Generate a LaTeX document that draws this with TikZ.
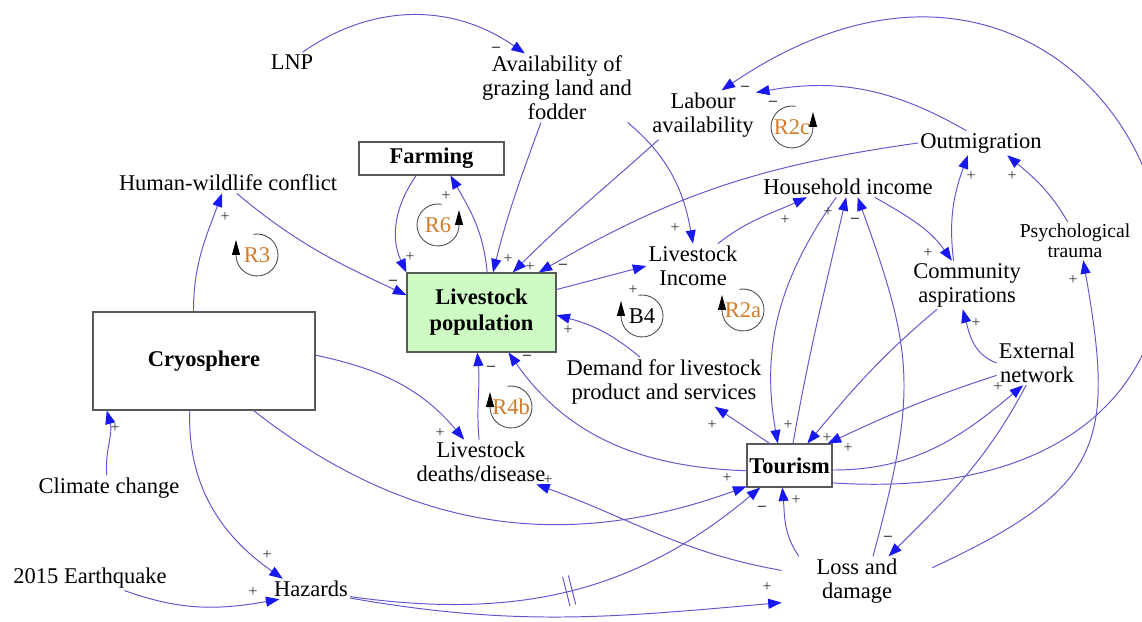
\documentclass[tikz,border=0pt]{standalone}
\usepackage{fontspec}
\setmainfont{Liberation Serif}
\usepackage{tikz}
\usetikzlibrary{arrows.meta}
\definecolor{linkcol}{RGB}{96,86,206}
\definecolor{tipcol}{RGB}{24,24,240}
\definecolor{loopcol}{RGB}{208,124,40}
\definecolor{stockfill}{RGB}{206,250,196}

\begin{document}
\begin{tikzpicture}[x=0.2mm,y=-0.2mm]
    \newcommand{\polsign}[3]{\node[sign] (#1) at (#2) {#3};}
    \newcommand{\loopcw}[4]{
      \node[looplabel,text=#4] (#1) at (#2) {#3};
      \draw[loopline] ([shift={(100:4.2mm)}]#1.center) arc[start angle=100,end angle=-180,radius=4.2mm] -- ++(0,-15);
    }
    \newcommand{\loopccw}[4]{
      \node[looplabel,text=#4] (#1) at (#2) {#3};
      \draw[loopline] ([shift={(80:4.2mm)}]#1.center) arc[start angle=80,end angle=360,radius=4.2mm] -- ++(0,-15);
    }
    \tikzstyle{var}=[
      align=center,
      inner sep=0.4mm,
      font=\fontsize{12.8}{13.7}\selectfont,
    ]
    \tikzstyle{box}=[
      var,
      draw=black!65,
      line width=0.6pt,
      font=\fontsize{12.8}{14.8}\selectfont\bfseries,
    ]
    \tikzstyle{link}=[line width=0.55pt,draw=linkcol,-{Triangle[length=2.7mm,width=2mm,color=tipcol]}]
    \tikzstyle{delayline}=[line width=0.55pt,draw=linkcol]
    \tikzstyle{sign}=[inner sep=0pt,font=\fontsize{9}{9}\selectfont,text=black!80]
    \tikzstyle{loopline}=[line width=0.5pt,draw=black!70,-{Triangle[length=3mm,width=1.6mm,color=black]}]
    \tikzstyle{looplabel}=[inner sep=0pt,font=\fontsize{12.8}{13.7}\selectfont]

    \useasboundingbox (0,0) rectangle (1142,622);

    % variables
    {
      \node[var] (lnp) at (292,62) {LNP};
      \node[var] (avail) at (557,88) {Availability of\\grazing land and\\fodder};
      \node[var] (labour) at (703,115) {Labour\\availability};
      \node[box,minimum width=29mm,minimum height=6.6mm] (farm) at (431.5,158.5) {Farming};
      \node[var] (hwc) at (228,183) {Human-wildlife conflict};
      \node[var] (outm) at (981,143) {Outmigration};
      \node[var] (hhi) at (848,187) {Household income};
      \node[var] (li) at (693,266) {Livestock\\Income};
      \node[box,fill=stockfill,minimum width=29.8mm,minimum height=15.8mm] (lp) at (481.5,312.5) {Livestock\\population};
      \node[var] (ca) at (967,285) {Community\\aspirations};
      \node[var,font=\fontsize{11.2}{11.4}\selectfont] (pt) at (1075,241) {Psychological\\trauma};
      \node[box,minimum width=44.4mm,minimum height=19.6mm] (cryo) at (204,361) {Cryosphere};
      \node[var] (demand) at (664,382) {Demand for livestock\\product and services};
      \node[var] (en) at (1037,363) {External\\network};
      \node[var] (deaths) at (481,462) {Livestock\\deaths/disease};
      \node[box,minimum width=17mm,minimum height=8.6mm] (tour) at (789.5,465.5) {Tourism};
      \node[var] (cc) at (109,488) {Climate change};
      \node[var] (eq) at (90,578) {2015 Earthquake};
      \node[var] (haz) at (311,589) {Hazards};
      \node[var,minimum width=30mm] (ld) at (857,581) {Loss and\\damage};
    }

    % links
    {
      \draw[link] (lnp.43) to[out=35,in=145] (avail.133);
      \draw[link] (avail.-115) to[out=-110,in=76] (lp.74);
      \draw[link] (avail.-26) to[out=-40,in=100] (li.north);
      \draw[link] (labour.-151) to[out=-138,in=45] (lp.52);
      \draw[link] (outm.west) to[out=-172,in=30] (lp.35);
      \draw[link] (outm.140) to[out=150,in=10] (labour.23);
      \draw[link] (tour.-22) .. controls (1400,520) and (1150,-200) .. (labour.53);
      \draw[link] (lp.17) -- (li.west);
      \draw[link] (li.42) to[out=38,in=-155] (hhi.-166);
      \draw[link] (hhi.-21) to[out=-30,in=125] (ca.122);
      \draw[link] (ca.119) to[out=97,in=-110] (outm.-137);
      \draw[link] (pt.111) to[out=120,in=-40] (outm.-25);
      \draw[link] (ld.10) to[out=25,in=-80,looseness=1.4] (pt.-67);

      \draw[link] (tour.-6) to[out=0,in=-140] (en.-122);
      \draw[link] (en.-163) to[out=-162,in=25] (tour.30);
      \draw[link] (ca.-141) to[out=-140,in=50] (tour.51);
      \draw[link] (hhi.-139) to[out=-125,in=100] (tour.118);
      \draw[link] (tour.81) to[out=80,in=-103] (hhi.-100);
      \draw[link] (ld.57) to[out=75,in=-70,looseness=1.2] (hhi.-47);

      \draw[link] (tour.132) -- (demand.-26);
      \draw[link] (demand.134) to[out=140,in=-15] (lp.-2);
      \draw[link] (tour.-173) to[out=178,in=-55] (lp.-56);
      \draw[link] (deaths.95) to[out=95,in=-85] (lp.-96);
      \draw[link] (cryo.3) to[out=-12,in=130] (deaths.127);
      \draw[link] (cryo.-45) to[out=-38,in=-160] (tour.-154);
      \draw[link] (cryo.-106) to[out=-92,in=145] (haz.160);
      \draw[link] (cryo.102) to[out=90,in=-110] (hwc.-120);
      \draw[link] (hwc.-50) to[out=-40,in=155] (lp.167);
      \draw[link] (farm.-132) to[out=-125,in=115] (lp.north west);
      \draw[link] (lp.82) to[out=95,in=-60] (farm.-42);
      \draw[link] (cc.100) to[out=95,in=-75] (cryo.-153);
      \draw[link] (eq.-20) to[out=-20,in=-170] (haz.-162);
      \draw[link] (haz.-11) to[out=-8,in=-140] node[pos=.5,sloped,inner sep=0pt,minimum width=1mm,minimum height=5.8mm] (dly) {} (tour.-143);
      \draw[delayline] (dly.north west) -- (dly.south west) (dly.north east) -- (dly.south east);
      \draw[link] (haz.-13) to[out=-10,in=-175] (ld.-164);
      \draw[link] (ld.172) to[out=170,in=-20] (deaths.-22);
      \draw[link] (ld.157) to[out=125,in=-85] (tour.-108);
      \draw[link] (en.west) to[out=160,in=-75] (ca.-100);
      \draw[link] (en.-116) to[out=-118,in=45] (ld.38);
    }

    % polarities
    {
      \polsign{sLnpAv}{496,49}{\bfseries --}
      \polsign{sAvLp}{508,259}{+}
      \polsign{sLaLp}{530,267}{+}
      \polsign{sOmLp}{563,266}{\bfseries --}
      \polsign{sAvLi}{675,228}{+}
      \polsign{sLpLi}{633,290}{+}
      \polsign{sLiHi}{785,220}{+}
      \polsign{sHiCa}{928,253}{+}
      \polsign{sCaOm}{971,176}{+}
      \polsign{sPtOm}{1012,176}{+}
      \polsign{sLdPt}{1073,280}{+}
      \polsign{sToLa}{745,88}{\bfseries --}
      \polsign{sOmLa}{773,103}{\bfseries --}
      \polsign{sToHi}{828,212}{+}
      \polsign{sLdHi}{855,220}{\bfseries --}
      \polsign{sHiTo}{788,425}{+}
      \polsign{sCaTo}{827,438}{+}
      \polsign{sEnTo}{848,448}{+}
      \polsign{sToEn}{998,387}{+}
      \polsign{sEnCa}{976,323}{+}
      \polsign{sEnLd}{888,538}{\bfseries --}
      \polsign{sToDe}{712,425}{+}
      \polsign{sDeLp}{568,330}{+}
      \polsign{sToLp}{527,357}{\bfseries --}
      \polsign{sDtLp}{491,368}{\bfseries --}
      \polsign{sCrDt}{440,433}{+}
      \polsign{sCrTo}{727,478}{+}
      \polsign{sHaTo}{762,508}{\bfseries --}
      \polsign{sLdTo}{796,500}{+}
      \polsign{sLdDt}{548,480}{+}
      \polsign{sHaLd}{767,587}{+}
      \polsign{sEqHa}{253,592}{+}
      \polsign{sCrHa}{267,555}{+}
      \polsign{sCcCr}{115,428}{+}
      \polsign{sCrHw}{225,217}{+}
      \polsign{sHwLp}{393,282}{\bfseries --}
      \polsign{sFaLp}{410,257}{+}
      \polsign{sLpFa}{446,196}{+}
    }

    % loops
    {
      \loopcw{rThree}{257,255}{R3}{loopcol}
      \loopccw{rSix}{438,225}{R6}{loopcol}
      \loopcw{bFour}{642,316}{B4}{black}
      \loopcw{rTwoA}{743,310}{R2a}{loopcol}
      \loopcw{rFourB}{511,407}{R4b}{loopcol}
      \loopccw{rTwoC}{792,127}{R2c}{loopcol}
    }
\end{tikzpicture}
\end{document}
